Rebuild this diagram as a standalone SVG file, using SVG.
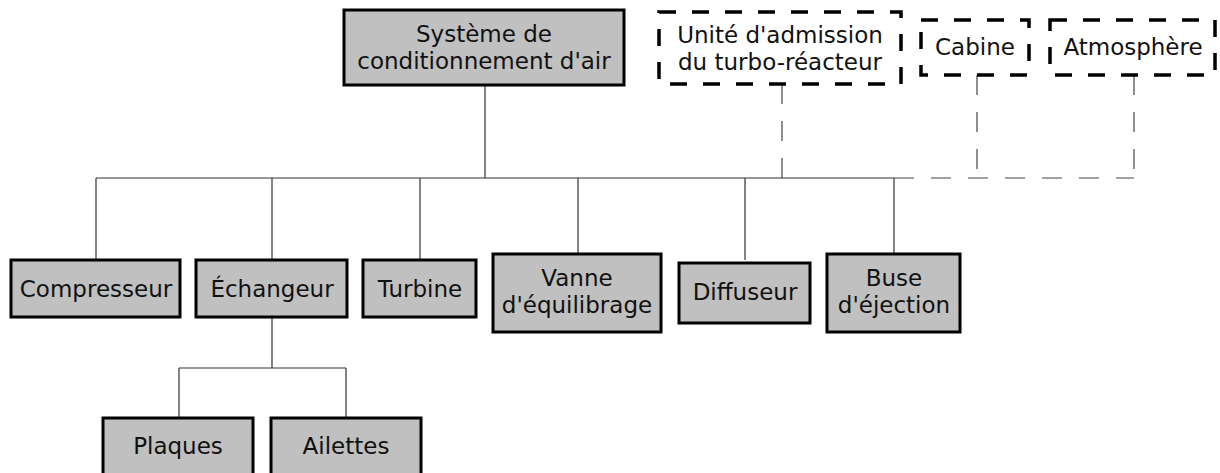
<svg xmlns="http://www.w3.org/2000/svg" width="1220" height="473" viewBox="0 0 1220 473">
<style>
.box{fill:#c0c0c0;stroke:#000;stroke-width:3;}
.dbox{fill:none;stroke:#000;stroke-width:3.5;stroke-dasharray:17,16;}
.t{font-family:"DejaVu Sans","Liberation Sans",sans-serif;font-size:23px;fill:#111;text-anchor:middle;}
.c{fill:none;stroke:#333;stroke-width:1.2;}
.cd{fill:none;stroke:#444;stroke-width:1.2;stroke-dasharray:20,17;}
</style>
<rect width="1220" height="473" fill="#fff"/>
<g id="connectors">
<path class="c" d="M485,85V178M96,178H894M96,178V260M272,178V260M420,178V260M578,178V254M745,178V260M894,178V254"/>
<path class="c" d="M272,317V368M179,368H346M179,368V418M346,368V418"/>
<path class="cd" d="M894,178H1134"/>
<path class="cd" d="M782,84V178"/>
<path class="cd" d="M977,75V178"/>
<path class="cd" d="M1134,75V178"/>
</g>
<g id="root"><rect class="box" x="344" y="10" width="280" height="75"/><text class="t" x="484" y="42">Système de</text><text class="t" x="484" y="69">conditionnement d'air</text></g>
<g id="unite"><rect class="dbox" x="659" y="12" width="242" height="72"/><text class="t" x="780" y="43">Unité d'admission</text><text class="t" x="780" y="70">du turbo-réacteur</text></g>
<g id="cabine"><rect class="dbox" x="921" y="20" width="108" height="55"/><text class="t" x="975" y="55">Cabine</text></g>
<g id="atmosphere"><rect class="dbox" x="1050" y="20" width="165" height="55"/><text class="t" x="1133" y="55">Atmosphère</text></g>
<g id="compresseur"><rect class="box" x="11" y="260" width="169" height="57"/><text class="t" x="96" y="297">Compresseur</text></g>
<g id="echangeur"><rect class="box" x="196" y="260" width="151" height="57"/><text class="t" x="272" y="297">Échangeur</text></g>
<g id="turbine"><rect class="box" x="363" y="260" width="113" height="57"/><text class="t" x="420" y="297">Turbine</text></g>
<g id="vanne"><rect class="box" x="493" y="254" width="168" height="78"/><text class="t" x="577" y="286">Vanne</text><text class="t" x="577" y="313">d'équilibrage</text></g>
<g id="diffuseur"><rect class="box" x="679" y="263" width="131" height="60"/><text class="t" x="745" y="300">Diffuseur</text></g>
<g id="buse"><rect class="box" x="827" y="254" width="133" height="78"/><text class="t" x="894" y="286">Buse</text><text class="t" x="894" y="313">d'éjection</text></g>
<g id="plaques"><rect class="box" x="103" y="418" width="150" height="57"/><text class="t" x="178" y="454">Plaques</text></g>
<g id="ailettes"><rect class="box" x="271" y="418" width="150" height="57"/><text class="t" x="346" y="454">Ailettes</text></g>
</svg>
